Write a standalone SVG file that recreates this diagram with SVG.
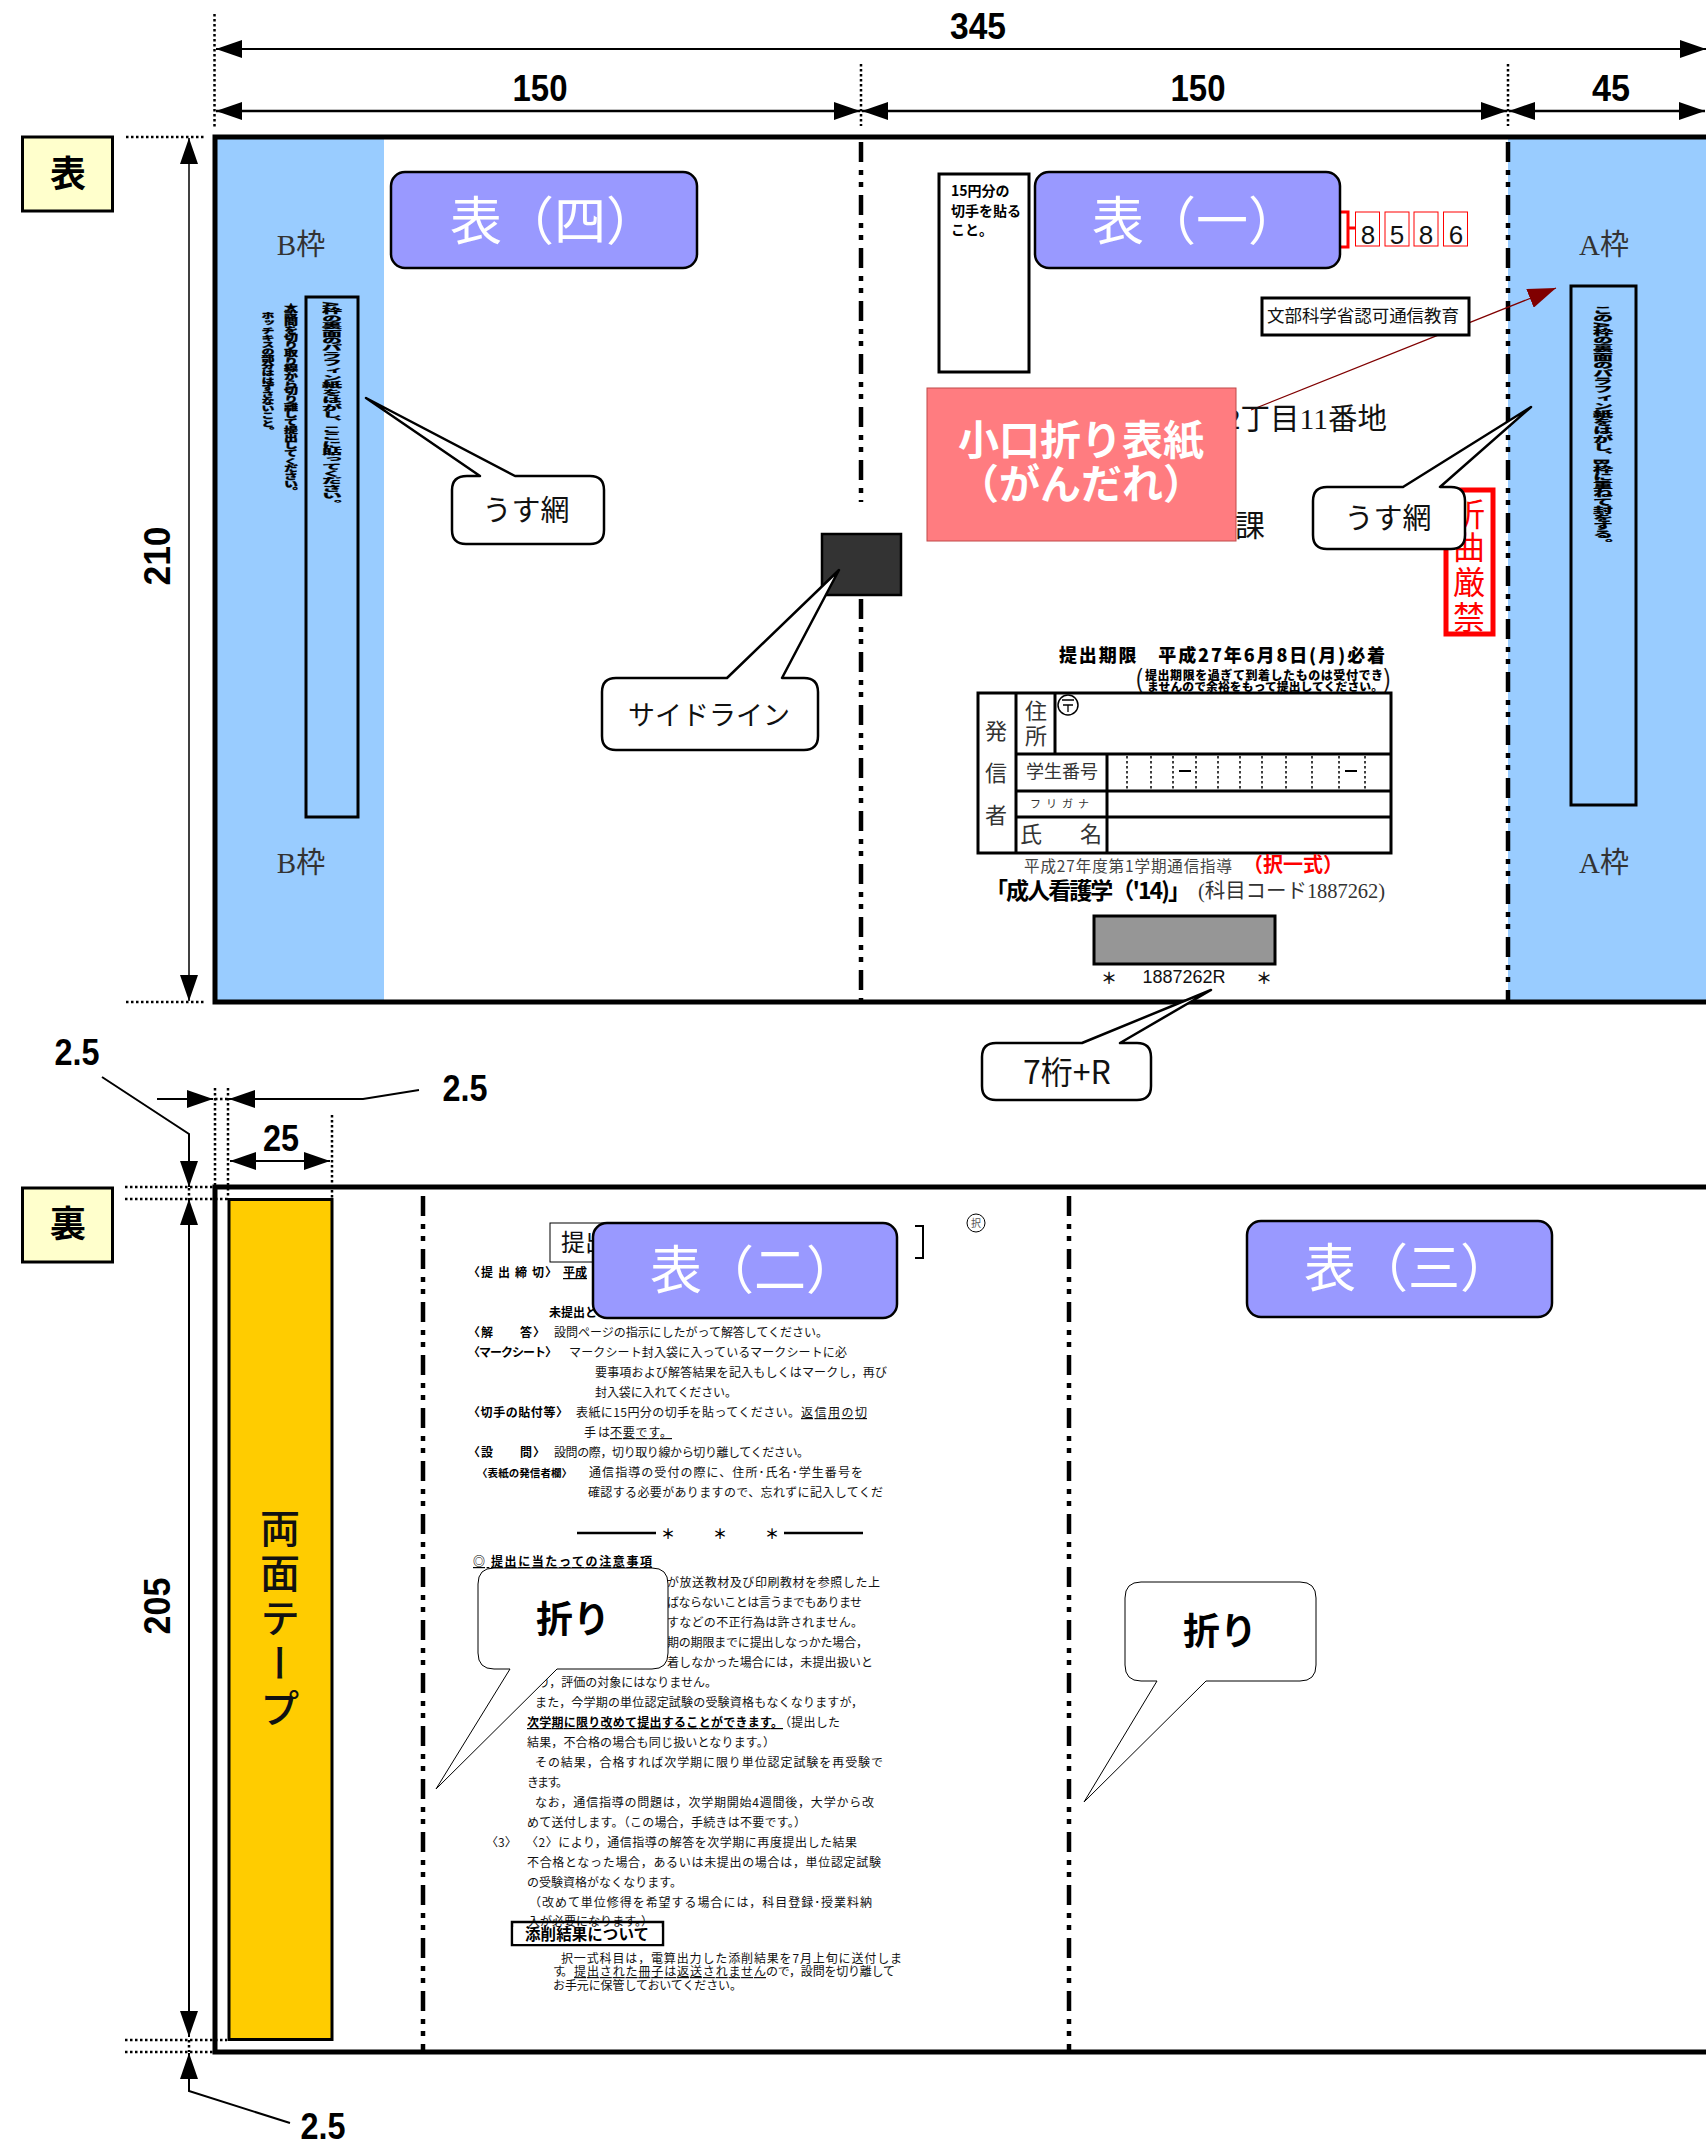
<svg xmlns="http://www.w3.org/2000/svg" width="1706" height="2143" viewBox="0 0 1706 2143">
<style>
text{font-family:"Noto Sans CJK JP","Liberation Sans",sans-serif;fill:#111}
.dim{font-family:"Liberation Sans","Noto Sans CJK JP",sans-serif;font-weight:700;font-size:37px;text-anchor:middle;fill:#000}
.s{font-size:12px}
.b{font-size:12px;font-weight:700;fill:#000}
.u{text-decoration:underline}
.m{font-family:"Liberation Serif","Noto Sans CJK JP",serif}
.c{text-anchor:middle}
.bl{fill:#99ccff}
.ln{stroke:#000;fill:none}
.fr{stroke:#000;stroke-width:5;fill:none}
.dot{stroke:#000;stroke-width:2.5;stroke-dasharray:2.5 2.5;fill:none}
.fold{stroke:#000;stroke-width:4.5;stroke-dasharray:20 8 5 7 5 8;fill:none}
.tag{fill:#9999ff;stroke:#000;stroke-width:2.5}
.tagt{font-size:52px;fill:#fff;text-anchor:middle}
.call{fill:#fff;stroke:#000;stroke-width:2.5;stroke-linejoin:round}
.thin{fill:#fff;stroke:#000;stroke-width:1;stroke-linejoin:round}
.box{fill:none;stroke:#000;stroke-width:3}
.v{writing-mode:vertical-rl;font-weight:900;font-size:20px;fill:#000;stroke:#000;stroke-width:.5}
.tb{stroke:#000;stroke-width:3;fill:none}
.red{stroke:#ff0000;stroke-width:1;fill:#fff}
</style>
<defs>
<marker id="ah" markerUnits="userSpaceOnUse" markerWidth="27" markerHeight="18" refX="26" refY="9" orient="auto-start-reverse"><path d="M0 0L26 9L0 18Z" fill="#000"/></marker>
<marker id="ar" markerUnits="userSpaceOnUse" markerWidth="29" markerHeight="20" refX="28" refY="10" orient="auto"><path d="M0 0L28 10L0 20Z" fill="#800000"/></marker>
</defs>

<g id="front-panel">
<rect class="bl" x="215" y="137" width="169" height="865"/>
<rect class="bl" x="1508" y="137" width="198" height="865"/>
<path class="fold" d="M861 142V502"/>
<path class="fold" d="M861 599V1000"/>
<path class="fold" d="M1508 142V1000"/>
<path class="fr" d="M1706 137H215V1002H1706"/>
</g>

<g id="back-panel">
<path class="fold" d="M423 1196V2050"/>
<path class="fold" d="M1069 1196V2050"/>
<path class="fr" d="M1706 1187H215V2052H1706"/>
</g>

<g id="connectors">
<path class="dot" d="M214.500 14V128"/>
<path class="dot" d="M861 64V126"/>
<path class="dot" d="M1508 64V126"/>
<path class="dot" d="M126 137H205"/>
<path class="dot" d="M126 1002H205"/>
<path class="ln" stroke-width="2" d="M1706 49H216" marker-start="url(#ah)" marker-end="url(#ah)"/>
<path class="ln" stroke-width="2.500" d="M216 111H860" marker-start="url(#ah)" marker-end="url(#ah)"/>
<path class="ln" stroke-width="2.500" d="M862 111H1507" marker-start="url(#ah)" marker-end="url(#ah)"/>
<path class="ln" stroke-width="2.500" d="M1509 111H1705" marker-start="url(#ah)" marker-end="url(#ah)"/>
<path class="ln" stroke-width="1.500" d="M189 138V1001" marker-start="url(#ah)" marker-end="url(#ah)"/>
<path class="dot" d="M215 1088V1187"/>
<path class="dot" d="M228 1088V1200"/>
<path class="dot" d="M332 1115V1198"/>
<path class="dot" d="M215 1099H228"/>
<path class="dot" d="M125 1187H213"/>
<path class="dot" d="M125 1199H228"/>
<path class="dot" d="M125 2040H227"/>
<path class="dot" d="M125 2052H213"/>
<path class="dot" d="M189 1188V1199"/>
<path class="dot" d="M189 2040V2052"/>
<path class="ln" stroke-width="2" d="M157 1099H213" marker-end="url(#ah)"/>
<path class="ln" stroke-width="2" d="M419 1090L363 1099H229" marker-end="url(#ah)"/>
<path class="ln" stroke-width="2" d="M230 1161H330" marker-start="url(#ah)" marker-end="url(#ah)"/>
<path class="ln" stroke-width="2" d="M102 1077L189 1134V1187" marker-end="url(#ah)"/>
<path class="ln" stroke-width="2" d="M189 1199V2037" marker-start="url(#ah)" marker-end="url(#ah)"/>
<path class="ln" stroke-width="2" d="M290 2123L189 2091V2053" marker-end="url(#ah)"/>
<path d="M1251 410L1556 288" stroke="#800000" stroke-width="1.200" fill="none" marker-end="url(#ar)"/>
</g>

<g id="dimension-labels">
<text class="dim" x="978" y="39" textLength="56" lengthAdjust="spacingAndGlyphs">345</text>
<text class="dim" x="540" y="101" textLength="55" lengthAdjust="spacingAndGlyphs">150</text>
<text class="dim" x="1198" y="101" textLength="55" lengthAdjust="spacingAndGlyphs">150</text>
<text class="dim" x="1611" y="101" textLength="38" lengthAdjust="spacingAndGlyphs">45</text>
<text class="dim" transform="translate(170,556) rotate(-90)" x="0" y="0" textLength="59" lengthAdjust="spacingAndGlyphs">210</text>
<text class="dim" transform="translate(170,1606) rotate(-90)" x="0" y="0" textLength="57" lengthAdjust="spacingAndGlyphs">205</text>
<text class="dim" x="77" y="1065" textLength="45" lengthAdjust="spacingAndGlyphs">2.5</text>
<text class="dim" x="465" y="1101" textLength="45" lengthAdjust="spacingAndGlyphs">2.5</text>
<text class="dim" x="281" y="1151" textLength="36" lengthAdjust="spacingAndGlyphs">25</text>
<text class="dim" x="323" y="2139" textLength="45" lengthAdjust="spacingAndGlyphs">2.5</text>
</g>

<g id="side-front"><rect x="22.500" y="137" width="90" height="74" fill="#ffffcc" stroke="#000" stroke-width="3"/><text x="68" y="187" font-size="36" font-weight="700" class="c" style="fill:#000">表</text></g>
<g id="side-back"><rect x="22.500" y="1188" width="90" height="74" fill="#ffffcc" stroke="#000" stroke-width="3"/><text x="68" y="1237" font-size="36" font-weight="700" class="c" style="fill:#000">裏</text></g>

<g id="b-flap">
<text class="m c" x="301" y="255" font-size="29" style="fill:#333">B枠</text>
<text class="m c" x="301" y="873" font-size="29" style="fill:#333">B枠</text>
<rect class="box" x="306" y="297" width="52" height="520"/>
<text class="v" transform="translate(332,302) scale(1,.37)">A枠の裏面のパラフィン紙をはがし、ここに貼ってください。</text>
<text class="v" style="font-size:14px" transform="translate(291,303) scale(1,.55)">★設問を切り取り線から切り離して提出してください。</text>
<text class="v" style="font-size:13px" transform="translate(268,312) scale(1,.55)">ホッチキスの部分ははずさないこと。</text>
</g>

<g id="a-flap">
<text class="m c" x="1604" y="255" font-size="29" style="fill:#333">A枠</text>
<text class="m c" x="1604" y="873" font-size="29" style="fill:#333">A枠</text>
<rect class="box" x="1571" y="286" width="65" height="519"/>
<text class="v" transform="translate(1603,306) scale(1,.41)">このA枠の裏面のパラフィン紙をはがし、B枠に重ねて封をする。</text>
</g>

<g id="address">
<rect x="939" y="174" width="90" height="198" fill="#fff" stroke="#000" stroke-width="3"/>
<text x="951" y="196" font-size="14" font-weight="700" style="fill:#000">15円分の</text>
<text x="951" y="216" font-size="14" font-weight="700" style="fill:#000">切手を貼る</text>
<text x="951" y="235" font-size="14" font-weight="700" style="fill:#000">こと。</text>
<path d="M1340 212H1348V247H1340M1348 228H1355" fill="none" stroke="#f00" stroke-width="3"/>
<rect class="red" x="1355.500" y="212" width="24" height="34"/>
<rect class="red" x="1385" y="212" width="24" height="34"/>
<rect class="red" x="1414" y="212" width="24" height="34"/>
<rect class="red" x="1443.500" y="212" width="24" height="34"/>
<g font-size="26" text-anchor="middle"><text x="1368" y="244" style="font-family:'Liberation Sans',sans-serif">8</text><text x="1397" y="244" style="font-family:'Liberation Sans',sans-serif">5</text><text x="1426" y="244" style="font-family:'Liberation Sans',sans-serif">8</text><text x="1456" y="244" style="font-family:'Liberation Sans',sans-serif">6</text></g>
<rect x="1262" y="298" width="207" height="37" fill="#fff" stroke="#000" stroke-width="3"/>
<text x="1267" y="322" font-size="17.500" textLength="192">文部科学省認可通信教育</text>
<text class="m" x="1387" y="429" font-size="29.500" text-anchor="end">2丁目11番地</text>
<text class="m" x="1235" y="536" font-size="30">課</text>
<rect x="1446" y="490" width="47" height="144" fill="#fff" stroke="#f00" stroke-width="5"/>
<g font-size="32" text-anchor="middle"><text x="1469" y="526" style="fill:#f00">折</text><text x="1469" y="559" style="fill:#f00">曲</text><text x="1469" y="594" style="fill:#f00">厳</text><text x="1469" y="629" style="fill:#f00">禁</text></g>
</g>

<g id="sender-table">
<text x="1059" y="662" font-size="18" font-weight="900" textLength="326" style="fill:#000">提出期限　平成27年6月8日(月)必着</text>
<text x="1145" y="680" font-size="12" font-weight="900" textLength="238" style="fill:#000">提出期限を過ぎて到着したものは受付でき</text>
<text x="1147" y="691" font-size="11.800" font-weight="900" textLength="236" style="fill:#000">ませんので余裕をもって提出してください。</text>
<text x="1135" y="688" font-size="25">(</text>
<text x="1383" y="688" font-size="25">)</text>
<rect x="978" y="693" width="413" height="160" fill="#fff" class="tb"/>
<path class="tb" d="M1016 693V853M1055 693V754M1016 754H1391M1016 791H1391M1016 817H1391M1107 754V853"/>
<path class="dot" d="M1127 756V790M1151 756V790M1173 756V790M1196 756V790M1218 756V790M1240 756V790M1262 756V790M1286 756V790M1312 756V790M1339 756V790M1365 756V790" style="stroke-width:1.500"/>
<path d="M1179 771H1191M1345 771H1357" stroke="#000" stroke-width="2"/>
<g class="m" font-size="22" text-anchor="middle">
<text x="996" y="739" style="fill:#333;font-family:inherit">発</text><text x="996" y="781" style="fill:#333;font-family:inherit">信</text><text x="996" y="823" style="fill:#333;font-family:inherit">者</text>
<text x="1036" y="719" style="fill:#333;font-family:inherit">住</text><text x="1036" y="744" style="fill:#333;font-family:inherit">所</text>
<text x="1031" y="842" style="fill:#333;font-family:inherit">氏</text><text x="1091" y="842" style="fill:#333;font-family:inherit">名</text>
</g>
<circle cx="1068" cy="705" r="10" fill="none" stroke="#000" stroke-width="1.500"/>
<path d="M1062 700H1074M1063 705H1073M1068 705V712" stroke="#000" stroke-width="1.300" fill="none"/>
<text class="c" x="1062" y="778" font-size="18" style="fill:#333">学生番号</text>
<text class="c" x="1062" y="808" font-size="11" style="fill:#333;letter-spacing:5px">フリガナ</text>
<text x="1024" y="872" font-size="15.500" textLength="208" style="fill:#444">平成27年度第1学期通信指導</text>
<text x="1243" y="872" font-size="20" font-weight="700" style="fill:#f00">（択一式）</text>
<text x="985" y="899" font-size="23" font-weight="700" textLength="206" style="fill:#000">「成人看護学（'14)」</text>
<text class="m" x="1198" y="898" font-size="20.500" textLength="187" style="fill:#333">(科目コード1887262)</text>
<rect x="1094" y="916" width="181" height="48" fill="#969696" stroke="#000" stroke-width="3"/>
<text class="c" x="1109" y="984" font-size="16" font-weight="700">＊</text>
<text class="c" x="1264" y="984" font-size="16" font-weight="700">＊</text>
<text class="c" x="1184" y="983" font-size="18" style="font-family:'Liberation Sans',sans-serif">1887262R</text>
</g>

<g id="tag-4"><rect class="tag" x="391" y="172" width="306" height="96" rx="14"/><text class="tagt" x="554" y="240">表（四）</text></g>
<g id="tag-1"><rect class="tag" x="1035" y="172" width="305" height="96" rx="14"/><text class="tagt" x="1196" y="240">表（一）</text></g>

<g id="pink-note"><rect x="927" y="388" width="309" height="153" fill="#ff7c80" stroke="#c04848" stroke-width="1"/>
<text x="1081" y="455" font-size="41" font-weight="700" class="c" style="fill:#fff">小口折り表紙</text>
<text x="1081" y="499" font-size="41" font-weight="700" class="c" style="fill:#fff">（がんだれ）</text></g>

<g id="side-line"><rect x="822" y="534" width="79" height="61" fill="#333" stroke="#000" stroke-width="2.500"/></g>

<g id="callout-usuami-left">
<path class="call" d="M467 476H480L366 398L515 476H590Q604 476 604 490V530Q604 544 590 544H466Q452 544 452 530V490Q452 476 467 476Z"/>
<text class="c" x="526" y="521" font-size="29">うす網</text></g>
<g id="callout-usuami-right">
<path class="call" d="M1327 487H1403L1531 407L1440 487H1451Q1465 487 1465 501V535Q1465 549 1451 549H1327Q1313 549 1313 535V501Q1313 487 1327 487Z"/>
<text class="c" x="1388" y="529" font-size="29">うす網</text></g>
<g id="callout-side">
<path class="call" d="M616 678H727L839 570L782 678H804Q818 678 818 692V736Q818 750 804 750H616Q602 750 602 736V692Q602 678 616 678Z"/>
<text class="c" x="709" y="725" font-size="27">サイドライン</text></g>
<g id="callout-7">
<path class="call" d="M996 1043H1082L1211 990L1120 1043H1137Q1151 1043 1151 1057V1086Q1151 1100 1137 1100H996Q982 1100 982 1086V1057Q982 1043 996 1043Z"/>
<text class="c" x="1067" y="1084" font-size="32">7桁+R</text></g>

<g id="tape"><rect x="229" y="1199.500" width="103" height="840" fill="#ffcc00" stroke="#000" stroke-width="3"/>
<text x="280" y="1508" style="writing-mode:vertical-rl;font-size:40px;letter-spacing:5px;fill:#111;font-weight:500">両面テープ</text></g>

<g id="notice">
<rect x="550" y="1223" width="150" height="39" fill="#fff" stroke="#000" stroke-width="1"/>
<text x="561" y="1251" font-size="24">提出</text>
<path d="M915 1226H923V1258H915" fill="none" stroke="#000" stroke-width="2"/>
<circle cx="976" cy="1223" r="9" fill="none" stroke="#000"/><text class="c" x="976" y="1227" font-size="10" style="fill:#555">択</text>
<text class="b" x="468" y="1277" textLength="89">〈提 出 締 切〉</text><text class="b u" x="563" y="1277">平成</text>
<text class="b" x="549" y="1317">未提出と</text>
<text class="b" x="468" y="1337" textLength="77">〈解　　答〉</text><text class="s" x="554" y="1337" textLength="274">設問ページの指示にしたがって解答してください。</text>
<text class="b" x="468" y="1357" textLength="89">〈マークシート〉</text><text class="s" x="569" y="1357" textLength="278">マークシート封入袋に入っているマークシートに必</text>
<text class="s" x="595" y="1377" textLength="292">要事項および解答結果を記入もしくはマークし，再び</text>
<text class="s" x="595" y="1397" textLength="142">封入袋に入れてください。</text>
<text class="b" x="468" y="1417" textLength="100">〈切手の貼付等〉</text><text class="s" x="576" y="1417" textLength="224">表紙に15円分の切手を貼ってください。</text><text class="s u" x="801" y="1417" textLength="66">返信用の切</text>
<text class="s" x="584" y="1437" textLength="26">手は</text><text class="s u" x="610" y="1437" textLength="62">不要です。</text>
<text class="b" x="468" y="1457" textLength="77">〈設　　問〉</text><text class="s" x="554" y="1457" textLength="255">設問の際，切り取り線から切り離してください。</text>
<text class="b" x="477" y="1477" textLength="95" style="font-size:10.500px">〈表紙の発信者欄〉</text><text class="s" x="589" y="1477" textLength="274">通信指導の受付の際に、住所･氏名･学生番号を</text>
<text class="s" x="588" y="1497" textLength="295">確認する必要がありますので、忘れずに記入してくだ</text>
<path d="M577 1533H656M784 1533H863" stroke="#000" stroke-width="2.500"/>
<text class="b c" x="668" y="1539" style="font-size:14px">＊</text><text class="b c" x="720" y="1539" style="font-size:14px">＊</text><text class="b c" x="772" y="1539" style="font-size:14px">＊</text>
<text class="b u" x="473" y="1566" textLength="179">◎ 提出に当たっての注意事項</text>
<text class="s" x="667" y="1587" textLength="213">が放送教材及び印刷教材を参照した上</text>
<text class="s" x="667" y="1607" textLength="195">ばならないことは言うまでもありませ</text>
<text class="s" x="667" y="1627" textLength="196">すなどの不正行為は許されません。</text>
<text class="s" x="667" y="1647" textLength="201">期の期限までに提出しなっかた場合，</text>
<text class="s" x="667" y="1667" textLength="206">着しなかった場合には，未提出扱いと</text>
<text class="s" x="538" y="1687" textLength="179">り，評価の対象にはなりません。</text>
<text class="s" x="535" y="1707" textLength="328">また，今学期の単位認定試験の受験資格もなくなりますが，</text>
<text class="b u" x="527" y="1727" textLength="256">次学期に限り改めて提出することができます。</text><text class="s" x="779" y="1727" textLength="61">（提出した</text>
<text class="s" x="527" y="1747" textLength="248">結果，不合格の場合も同じ扱いとなります。）</text>
<text class="s" x="535" y="1767" textLength="348">その結果，合格すれば次学期に限り単位認定試験を再受験で</text>
<text class="s" x="527" y="1787" textLength="41">きます。</text>
<text class="s" x="535" y="1807" textLength="339">なお，通信指導の問題は，次学期開始4週間後，大学から改</text>
<text class="s" x="527" y="1827" textLength="279">めて送付します。（この場合，手続きは不要です。）</text>
<text class="s" x="486" y="1847">〈3〉</text>
<text class="s" x="526" y="1847" textLength="331">〈2〉により，通信指導の解答を次学期に再度提出した結果</text>
<text class="s" x="527" y="1867" textLength="354">不合格となった場合，あるいは未提出の場合は，単位認定試験</text>
<text class="s" x="527" y="1887" textLength="155">の受験資格がなくなります。</text>
<text class="s" x="529" y="1907" textLength="343">（改めて単位修得を希望する場合には，科目登録･授業料納</text>
<text class="s" x="528" y="1926" textLength="125">入が必要になります。）</text>
<rect x="512" y="1922" width="151" height="23" fill="#fff" fill-opacity="0" stroke="#000" stroke-width="2.500"/>
<rect x="513.500" y="1927" width="148" height="17" fill="#fff"/>
<text x="525" y="1940" font-size="15.500" font-weight="700" textLength="124" style="fill:#000">添削結果について</text>
<text class="s" x="561" y="1963" textLength="341">択一式科目は，電算出力した添削結果を7月上旬に送付しま</text>
<text class="s" x="553" y="1976" textLength="20">す。</text><text class="s u" x="574" y="1976" textLength="192">提出された冊子は返送されません</text><text class="s" x="766" y="1976" textLength="129">ので，設問を切り離して</text>
<text class="s" x="553" y="1990" textLength="189">お手元に保管しておいてください。</text>
</g>

<g id="tag-2"><rect class="tag" x="593" y="1223" width="304" height="95" rx="14"/><text class="tagt" x="754" y="1289">表（二）</text></g>
<g id="tag-3"><rect class="tag" x="1247" y="1221" width="305" height="96" rx="14"/><text class="tagt" x="1408" y="1287">表（三）</text></g>

<g id="callout-fold-left">
<path class="thin" d="M494 1568H652Q668 1568 668 1584V1653Q668 1669 652 1669H557L436 1789L510 1669H494Q478 1669 478 1653V1584Q478 1568 494 1568Z"/>
<text class="c" x="573" y="1633" font-size="37" font-weight="700" style="fill:#000">折り</text></g>
<g id="callout-fold-right">
<path class="thin" d="M1141 1582H1300Q1316 1582 1316 1598V1665Q1316 1681 1300 1681H1206L1084 1802L1157 1681H1141Q1125 1681 1125 1665V1598Q1125 1582 1141 1582Z"/>
<text class="c" x="1220" y="1645" font-size="37" font-weight="700" style="fill:#000">折り</text></g>
</svg>
